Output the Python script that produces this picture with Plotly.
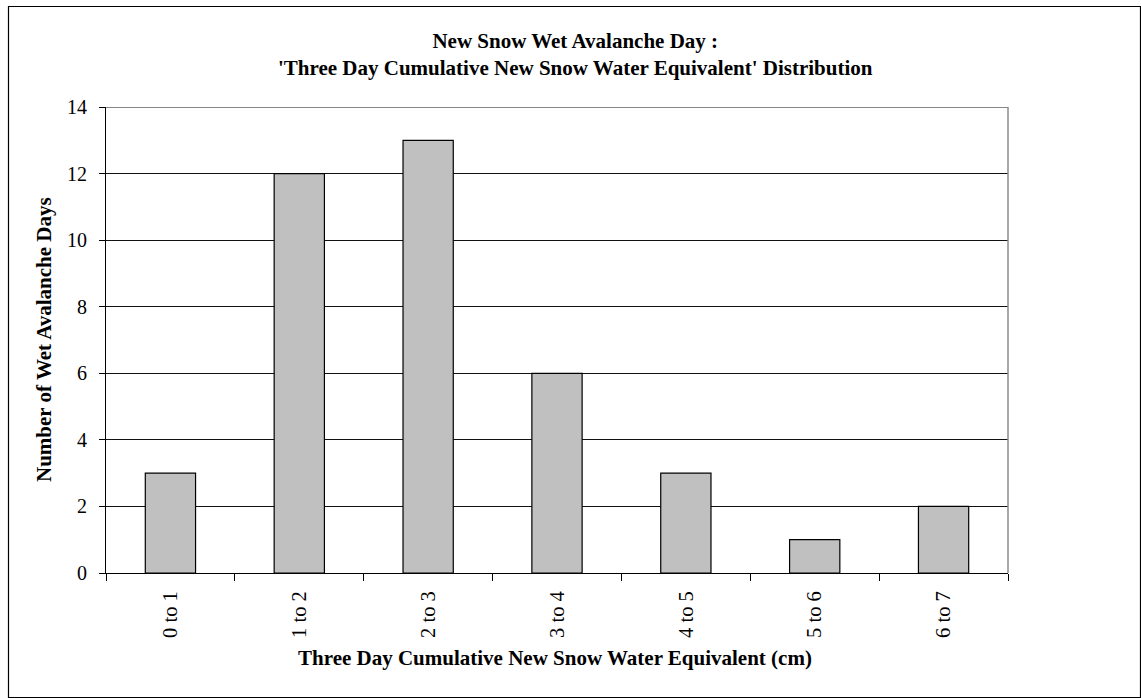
import plotly.graph_objects as go

# Wet avalanche day counts per three-day new-snow water equivalent bin
bins = ["0 to 1", "1 to 2", "2 to 3", "3 to 4", "4 to 5", "5 to 6", "6 to 7"]
days = [3, 12, 13, 6, 3, 1, 2]
y_ticks = [0, 2, 4, 6, 8, 10, 12, 14]

title_lines = [
    "New Snow Wet Avalanche Day :",
    "'Three Day Cumulative New Snow Water Equivalent' Distribution",
]
x_title = "Three Day Cumulative New Snow Water Equivalent (cm)"
y_title = "Number of Wet Avalanche Days"

W, H = 1141, 698
L, R, T, B = 106, 133, 107, 125
pw, ph = W - L - R, H - T - B


def px_x(x):
    return (x - L) / pw


def px_y(y):
    return (H - B - y) / ph


FONT = "Liberation Serif, Times New Roman, serif"

fig = go.Figure(
    go.Bar(
        x=bins,
        y=days,
        marker=dict(color="#C0C0C0", line=dict(color="black", width=1.2)),
        width=0.39,
    )
)

fig.update_layout(
    width=W,
    height=H,
    margin=dict(l=L, r=R, t=T, b=B),
    paper_bgcolor="white",
    plot_bgcolor="white",
    font=dict(family=FONT, size=20, color="black"),
    showlegend=False,
    xaxis=dict(
        type="category",
        tickson="boundaries",
        ticks="outside",
        ticklen=7,
        tickcolor="black",
        tickangle=-90,
        showline=True,
        linecolor="black",
        linewidth=1,
        showgrid=False,
        ticklabelstandoff=9,
        tickfont=dict(size=20.5),
    ),
    yaxis=dict(
        range=[0, 14],
        tickvals=y_ticks,
        ticks="outside",
        ticklen=6,
        tickcolor="black",
        showline=True,
        linecolor="black",
        linewidth=1,
        showgrid=True,
        gridcolor="#111111",
        gridwidth=1,
        zeroline=False,
        ticklabelstandoff=8,
    ),
    annotations=[
        dict(
            text="<b>" + "<br>".join(title_lines) + "</b>",
            xref="paper", yref="paper",
            x=px_x(575), y=px_y(54),
            xanchor="center", yanchor="middle",
            showarrow=False,
            font=dict(size=21),
        ),
        dict(
            text="<b>" + x_title + "</b>",
            xref="paper", yref="paper",
            x=px_x(555), y=px_y(658),
            xanchor="center", yanchor="middle",
            showarrow=False,
            font=dict(size=21),
        ),
        dict(
            text="<b>" + y_title + "</b>",
            xref="paper", yref="paper",
            x=px_x(44), y=0.5,
            xanchor="center", yanchor="middle",
            textangle=-90,
            showarrow=False,
            font=dict(size=21),
        ),
    ],
    shapes=[
        # gridline along the top of the value range
        dict(type="line", xref="paper", yref="y",
             x0=0, x1=1, y0=14, y1=14,
             line=dict(color="#111111", width=1)),
        # right edge of the plot area
        dict(type="line", xref="paper", yref="paper",
             x0=1, x1=1, y0=0, y1=1,
             line=dict(color="#8c8c8c", width=1.5)),
        # outer chart frame
        dict(type="rect", xref="paper", yref="paper",
             x0=px_x(8.5), x1=px_x(1140.5), y0=px_y(697.5), y1=px_y(6.5),
             line=dict(color="black", width=1.2)),
    ],
)

fig.write_html("out.html")
